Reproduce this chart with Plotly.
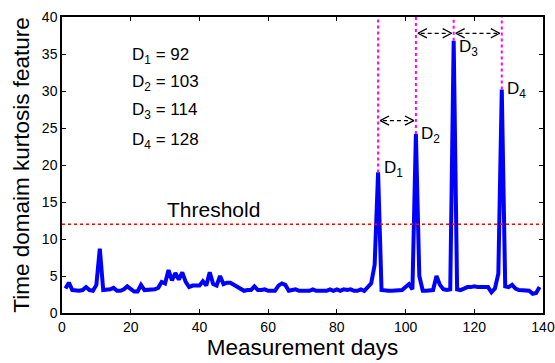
import plotly.graph_objects as go

# ---------------- data ----------------
days = list(range(1, 140))
kurtosis = [
    3.3, 4.1, 3.1, 3.0, 3.0, 3.1, 3.5, 3.1, 3.0, 3.8,   # 1-10
    8.7, 3.1, 3.1, 3.2, 3.4, 3.0, 3.0, 3.2, 3.6, 3.3,   # 11-20
    2.9, 2.9, 3.8, 3.1, 3.1, 3.1, 3.2, 3.4, 4.2, 4.0,   # 21-30
    5.8, 4.4, 5.4, 4.5, 5.5, 4.2, 3.5, 3.7, 3.7, 3.7,   # 31-40
    4.3, 3.7, 5.5, 3.9, 3.7, 5.0, 3.9, 4.1, 4.1, 3.8,   # 41-50
    3.5, 3.3, 3.0, 3.1, 3.1, 3.6, 3.1, 3.1, 3.2, 3.0,   # 51-60
    3.0, 3.0, 3.7, 4.0, 3.8, 3.0, 3.1, 3.2, 3.0, 3.0,   # 61-70
    3.0, 3.0, 3.2, 3.0, 3.0, 3.0, 3.0, 3.2, 3.0, 3.2,   # 71-80
    3.0, 3.2, 3.1, 3.2, 3.0, 3.0, 3.2, 3.0, 3.5, 4.0,   # 81-90
    6.5, 19.0, 3.1, 3.0, 3.0, 3.0, 3.0, 3.0, 3.1, 3.5,  # 91-100
    3.9, 3.2, 24.2, 5.0, 3.0, 3.0, 3.1, 3.1, 5.0, 3.8,  # 101-110
    3.2, 3.1, 3.2, 36.8, 3.2, 3.1, 3.3, 3.5, 3.5, 3.6,  # 111-120
    3.5, 3.5, 3.4, 3.5, 2.8, 3.3, 5.3, 30.2, 3.6, 3.5,  # 121-130
    3.8, 3.3, 3.1, 3.1, 3.0, 3.0, 2.6, 2.7, 3.5,        # 131-139
]
d_names = ["D<sub>1</sub>", "D<sub>2</sub>", "D<sub>3</sub>", "D<sub>4</sub>"]
d_days = [92, 103, 114, 128]
threshold = 12
x_ticks = [0, 20, 40, 60, 80, 100, 120, 140]
y_ticks = [0, 5, 10, 15, 20, 25, 30, 35, 40]

# ---------------- style / layout ----------------
FONT = "Arial, 'Liberation Sans', sans-serif"
X_MAX, Y_MAX = 140, 40
arrow_rows = [26.0, 37.8, 37.8]        # y position of each "<-->" marker
chev_w, chev_h = 2.6, 0.62             # chevron size in data units
label_dy = [0.8, 0.3, -0.6, 0.3]       # D-label vertical offset from its peak
block_y = [35.2, 31.5, 27.7, 23.7]     # rows of the "D = ..." text block

peak_of = {d: kurtosis[days.index(d)] for d in d_days}

fig = go.Figure()

# magenta dotted lines from top of the axes down to each peak
for d in d_days:
    fig.add_shape(type="line", x0=d, x1=d, y0=peak_of[d], y1=Y_MAX,
                  line=dict(color="#FF00FF", width=2, dash="dot"), layer="above")

# threshold
fig.add_shape(type="line", x0=0, x1=X_MAX, y0=threshold, y1=threshold,
              line=dict(color="#FF0000", width=1.5, dash="dot"), layer="above")

# main series
fig.add_trace(go.Scatter(x=days, y=kurtosis, mode="lines",
                         line=dict(color="#0000FF", width=4),
                         hoverinfo="skip", showlegend=False))

# double-headed dashed arrows between consecutive D's
for (a, b), yy in zip(zip(d_days[:-1], d_days[1:]), arrow_rows):
    a2, b2 = a + 0.6, b - 0.6
    fig.add_trace(go.Scatter(x=[a2 + 0.8, b2 - 0.8], y=[yy, yy], mode="lines",
                             line=dict(color="black", width=1.3, dash="4px,3px"),
                             hoverinfo="skip", showlegend=False))
    fig.add_trace(go.Scatter(
        x=[a2 + chev_w, a2, a2 + chev_w, None, b2 - chev_w, b2, b2 - chev_w],
        y=[yy + chev_h, yy, yy - chev_h, None, yy + chev_h, yy, yy - chev_h],
        mode="lines", line=dict(color="black", width=1.3),
        hoverinfo="skip", showlegend=False))

# D labels next to peaks
for name, d, dy in zip(d_names, d_days, label_dy):
    fig.add_annotation(x=d + 1.0, y=peak_of[d] + dy, text=name, showarrow=False,
                       xanchor="left", yanchor="middle", yshift=-3,
                       font=dict(family=FONT, size=17, color="black"))

# text block with D values
for name, d, yy in zip(d_names, d_days, block_y):
    fig.add_annotation(x=19.8, y=yy, text=f"{name} = {d}", showarrow=False,
                       xanchor="left", yanchor="middle", yshift=-3,
                       font=dict(family=FONT, size=17, color="black"))

# threshold label
fig.add_annotation(x=44, y=14.0, text="Threshold", showarrow=False,
                   xanchor="center", yanchor="middle",
                   font=dict(family=FONT, size=21, color="black"))

axis_common = dict(showline=True, linecolor="black", linewidth=1.5, mirror="ticks",
                   ticks="inside", ticklen=4, tickwidth=1, tickcolor="black",
                   showgrid=False, zeroline=False, automargin=False,
                   tickfont=dict(family=FONT, size=14, color="black"))

fig.update_xaxes(range=[0, X_MAX], tickvals=x_ticks,
                 title=dict(text="Measurement days", standoff=6,
                            font=dict(family=FONT, size=22.5, color="black")),
                 **axis_common)
fig.update_yaxes(range=[0, Y_MAX], tickvals=y_ticks,
                 title=dict(text="Time domaim kurtosis feature", standoff=6,
                            font=dict(family=FONT, size=22.5, color="black")),
                 **axis_common)

fig.update_layout(width=555, height=363,
                  margin=dict(l=62, r=12, t=17, b=50),
                  paper_bgcolor="white", plot_bgcolor="white",
                  showlegend=False)

fig.write_html("out.html")
